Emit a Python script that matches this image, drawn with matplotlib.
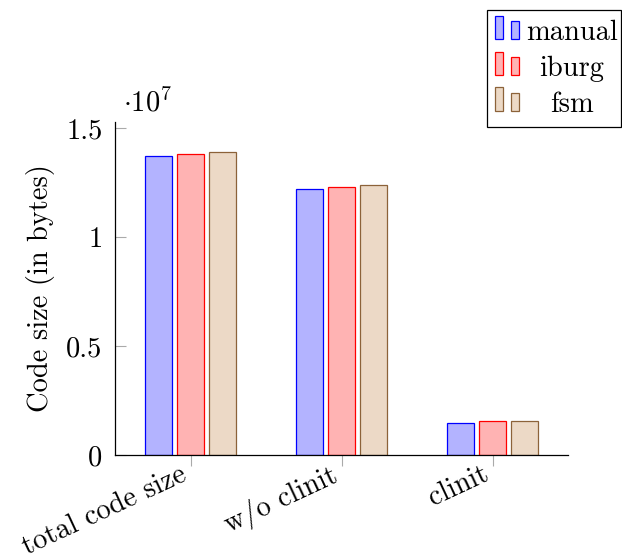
import matplotlib.pyplot as plt
import matplotlib.patches as mpatches
import matplotlib.transforms as mtransforms
import numpy as np

plt.rcParams['font.family'] = 'cmr10'
plt.rcParams['mathtext.fontset'] = 'cm'
plt.rcParams['axes.formatter.use_mathtext'] = True

categories = ['total code size', 'w/o clinit', 'clinit']
series = ['manual', 'iburg', 'fsm']
manual = [1.371e7, 1.223e7, 0.148e7]
iburg = [1.383e7, 1.229e7, 0.154e7]
fsm = [1.393e7, 1.239e7, 0.154e7]
yticks = [0, 0.5e7, 1.0e7, 1.5e7]
ytick_labels = ['0', '0.5', '1', '1.5']

fills = ['#b3b3ff', '#ffb3b3', '#ecd9c6']
edges = ['#0000ff', '#ff0000', '#8c6239']
FS = 20.5

W, H = 622, 557
fig = plt.figure(figsize=(W / 100, H / 100), dpi=100)
ax = fig.add_axes([115 / W, 1 - 455 / H, (568 - 115) / W, (455 - 122) / H])

x = np.arange(len(categories))
width = 0.178
step = 0.211
for i, vals in enumerate([manual, iburg, fsm]):
    ax.bar(x + (i - 1) * step, vals, width, color=fills[i], edgecolor=edges[i],
           linewidth=0.9, label=series[i], zorder=2)

ax.set_xlim(-0.5, 2.5)
ax.set_ylim(0, 1.529e7)
ax.set_yticks(yticks)
ax.set_yticklabels(ytick_labels, fontsize=FS)
ax.set_xticks(x)
ax.set_xticklabels([])
# rotated category labels, anchored just left of each tick
shift = mtransforms.ScaledTranslation(-11 / 100, -6 / 100, fig.dpi_scale_trans)
for xi, name in zip(x, categories):
    ax.text(xi, 0, name, transform=ax.get_xaxis_transform() + shift,
            fontsize=FS, rotation=25, ha='right', va='top',
            rotation_mode='anchor', clip_on=False)
ax.tick_params(axis='y', direction='in', length=8, color='#aaaaaa', width=0.8, pad=9)
ax.tick_params(axis='x', direction='out', length=8, color='#aaaaaa', width=0.8)
ax.spines['top'].set_visible(False)
ax.spines['right'].set_visible(False)
ax.spines['left'].set_linewidth(0.9)
ax.spines['bottom'].set_linewidth(0.9)
ax.set_ylabel('Code size (in bytes)', fontsize=FS, labelpad=8)
ax.text(123 / W, 1 - 103 / H, r'$\cdot 10^7$', transform=fig.transFigure,
        fontsize=FS, va='center', ha='left')

# legend box (pgfplots style, two small bars per entry)
def px(xp, yp):
    return xp / W, 1 - yp / H

fig.patches.append(mpatches.Rectangle(px(487, 127), (W - 1 - 487) / W, 117 / H,
                                      transform=fig.transFigure, fill=False,
                                      edgecolor='black', linewidth=0.9))
for i, name in enumerate(series):
    top = 15.7 + i * 35.8
    bottom = top + 23.6
    fig.patches.append(mpatches.Rectangle(px(495.3, bottom), 8 / W, (bottom - top) / H,
                                          transform=fig.transFigure, facecolor=fills[i],
                                          edgecolor=edges[i], linewidth=0.9))
    fig.patches.append(mpatches.Rectangle(px(511.3, bottom), 8 / W, 18 / H,
                                          transform=fig.transFigure, facecolor=fills[i],
                                          edgecolor=edges[i], linewidth=0.9))
    fig.text(572 / W, 1 - (bottom + 1) / H, name, fontsize=FS, ha='center',
             va='baseline')

fig.savefig('out.png', dpi=100)
